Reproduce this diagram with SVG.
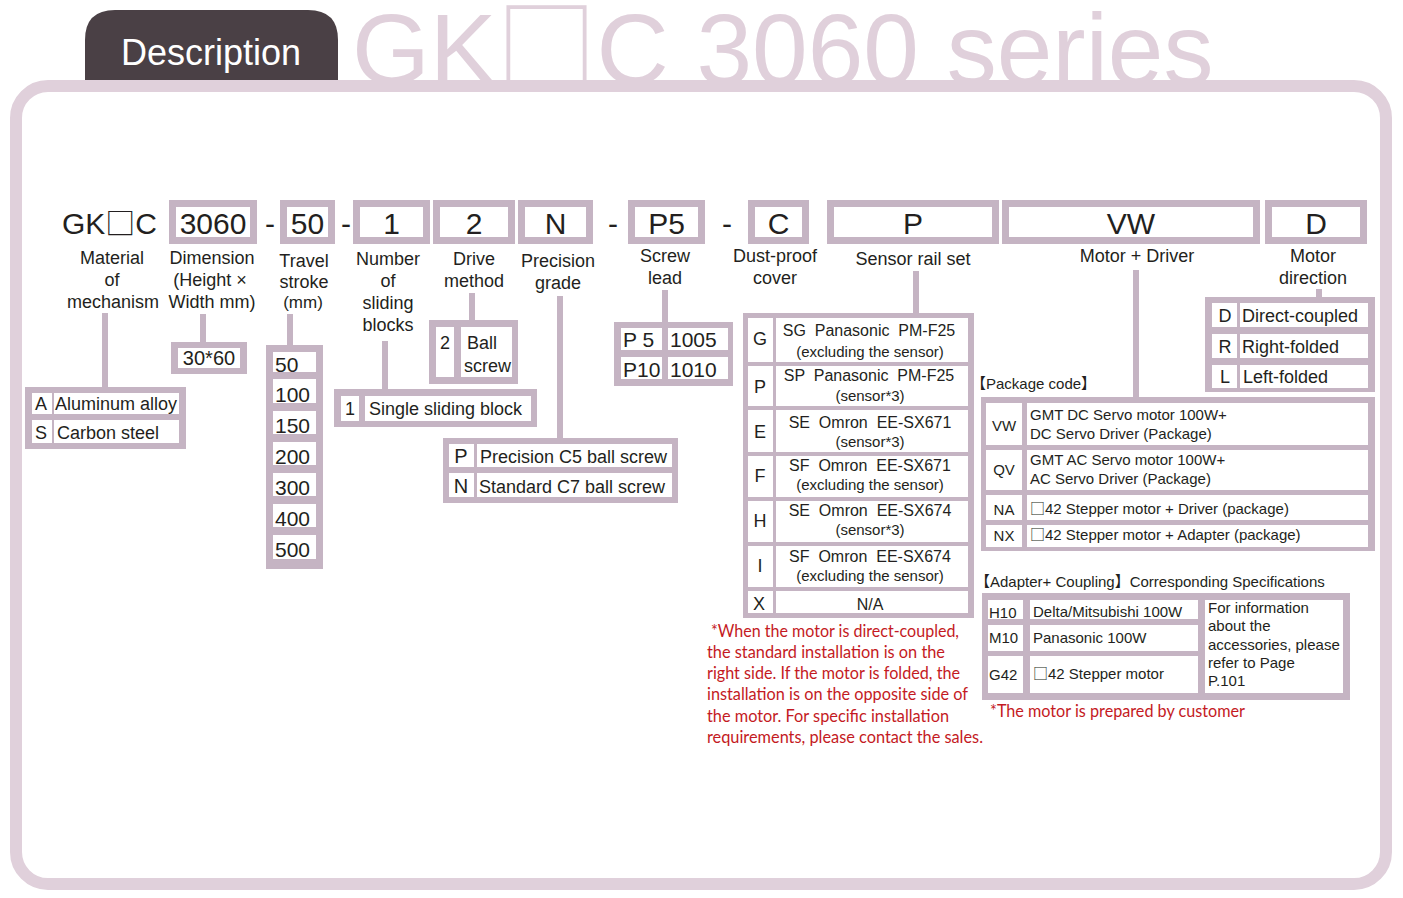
<svg xmlns="http://www.w3.org/2000/svg" width="1403" height="898" viewBox="0 0 1403 898">
<style>
.t{font-family:"Liberation Sans",Arial,"Noto Sans CJK SC",sans-serif;fill:#231f20}
.m{text-anchor:middle}
.cjk{font-family:"Noto Sans CJK SC","Noto Sans CJK JP",sans-serif}
.bg{fill:#c5b4c3}
.cell{fill:#fff}
.code{fill:#fff;stroke:#c5b4c3;stroke-width:7}
.ln{stroke:#c5b4c3;stroke-width:6;fill:none}
.red{font-family:Lato,"Open Sans",sans-serif;fill:#c41a23;font-size:17px}
.f18{font-size:18px}
.f15{font-size:15px}
.f16{font-size:16px}
.f21{font-size:21px}
.f30{font-size:30px}
</style>

<!-- header -->
<g id="header">
  <text x="352" y="84" font-family="Liberation Sans,Arial,sans-serif" font-size="100" fill="#e0d0db">GK<tspan class="cjk">□</tspan>C 3060 series</text>
  <path d="M85,80 V40 Q85,10 115,10 H308 Q338,10 338,40 V80 Z" fill="#4a4045"/>
  <text x="211" y="65" text-anchor="middle" font-family="Liberation Sans,Arial,sans-serif" font-size="36" fill="#ffffff">Description</text>
</g>
<g id="frame">
  <rect x="16" y="86" width="1370" height="798" rx="32" fill="#fff" stroke="#e0d0db" stroke-width="12"/>
</g>

<!-- code row -->
<g id="code-row">
  <text class="t f30" x="62" y="234">GK<tspan class="cjk">□</tspan>C</text>
  <rect class="code" x="172.5" y="203.5" width="81" height="37"/>
  <text class="t f30 m" x="213" y="234">3060</text>
  <text class="t f30 m" x="270" y="234">-</text>
  <rect class="code" x="283.5" y="203.5" width="48" height="37"/>
  <text class="t f30 m" x="307.5" y="234">50</text>
  <text class="t f30 m" x="346" y="234">-</text>
  <rect class="code" x="356.5" y="203.5" width="70" height="37"/>
  <text class="t f30 m" x="391.5" y="234">1</text>
  <rect class="code" x="436.5" y="203.5" width="75" height="37"/>
  <text class="t f30 m" x="474" y="234">2</text>
  <rect class="code" x="521.5" y="203.5" width="68" height="37"/>
  <text class="t f30 m" x="555.5" y="234">N</text>
  <text class="t f30 m" x="613" y="234">-</text>
  <rect class="code" x="631.5" y="203.5" width="70" height="37"/>
  <text class="t f30 m" x="666.5" y="234">P5</text>
  <text class="t f30 m" x="727" y="234">-</text>
  <rect class="code" x="751.5" y="203.5" width="54" height="37"/>
  <text class="t f30 m" x="778.5" y="234">C</text>
  <rect class="code" x="830.5" y="203.5" width="165" height="37"/>
  <text class="t f30 m" x="913" y="234">P</text>
  <rect class="code" x="1005.5" y="203.5" width="251" height="37"/>
  <text class="t f30 m" x="1131" y="234">VW</text>
  <rect class="code" x="1268.5" y="203.5" width="95" height="37"/>
  <text class="t f30 m" x="1316" y="234">D</text>
</g>

<!-- labels -->
<g id="labels">
  <text class="t f18 m" x="112" y="264">Material</text>
  <text class="t f18 m" x="112" y="286">of</text>
  <text class="t f18 m" x="113" y="308">mechanism</text>
  <text class="t f18 m" x="212" y="264">Dimension</text>
  <text class="t f18 m" x="210" y="286">(Height ×</text>
  <text class="t f18 m" x="212" y="308">Width mm)</text>
  <text class="t f18 m" x="304" y="267">Travel</text>
  <text class="t f18 m" x="304" y="288">stroke</text>
  <text class="t m" font-size="17" x="303" y="308">(mm)</text>
  <text class="t f18 m" x="388" y="265">Number</text>
  <text class="t f18 m" x="388" y="287">of</text>
  <text class="t f18 m" x="388" y="309">sliding</text>
  <text class="t f18 m" x="388" y="331">blocks</text>
  <text class="t f18 m" x="474" y="265">Drive</text>
  <text class="t f18 m" x="474" y="287">method</text>
  <text class="t f18 m" x="558" y="267">Precision</text>
  <text class="t f18 m" x="558" y="289">grade</text>
  <text class="t f18 m" x="665" y="262">Screw</text>
  <text class="t f18 m" x="665" y="284">lead</text>
  <text class="t f18 m" x="775" y="262">Dust-proof</text>
  <text class="t f18 m" x="775" y="284">cover</text>
  <text class="t f18 m" x="913" y="265">Sensor rail set</text>
  <text class="t f18 m" x="1137" y="262">Motor + Driver</text>
  <text class="t f18 m" x="1313" y="262">Motor</text>
  <text class="t f18 m" x="1313" y="284">direction</text>
</g>

<!-- connectors -->
<g id="connectors">
  <line class="ln" x1="105" y1="313" x2="105" y2="389"/>
  <line class="ln" x1="203" y1="314" x2="203" y2="343"/>
  <line class="ln" x1="290" y1="314" x2="290" y2="346"/>
  <line class="ln" x1="385" y1="341" x2="385" y2="390"/>
  <line class="ln" x1="472" y1="293" x2="472" y2="321"/>
  <line class="ln" x1="560" y1="296" x2="560" y2="439"/>
  <line class="ln" x1="665" y1="290" x2="665" y2="323"/>
  <line class="ln" x1="916" y1="271" x2="916" y2="314"/>
  <line class="ln" x1="1136" y1="270" x2="1136" y2="398"/>
  <line class="ln" x1="1319" y1="289" x2="1319" y2="298"/>
</g>

<!-- material -->
<g id="material-table">
  <rect class="bg" x="25" y="387" width="161" height="62"/>
  <rect class="cell" x="32" y="393" width="20" height="21"/>
  <rect class="cell" x="54" y="393" width="125" height="21"/>
  <rect class="cell" x="32" y="420" width="20" height="23"/>
  <rect class="cell" x="54" y="420" width="125" height="23"/>
  <text class="t f18 m" x="41" y="410">A</text>
  <text class="t f18" x="55" y="410">Aluminum alloy</text>
  <text class="t f18 m" x="41" y="439">S</text>
  <text class="t f18" x="57" y="439">Carbon steel</text>
</g>

<!-- dimension -->
<g id="dimension-table">
  <rect class="bg" x="171" y="342" width="76" height="32"/>
  <rect class="cell" x="178" y="348" width="62" height="20"/>
  <text class="t m" font-size="20" x="209" y="365">30*60</text>
</g>

<!-- travel -->
<g id="travel-table">
  <rect class="bg" x="266" y="345" width="57" height="224"/>
  <rect class="cell" x="273" y="352" width="43" height="20"/>
  <rect class="cell" x="273" y="379" width="43" height="24"/>
  <rect class="cell" x="273" y="411" width="43" height="23"/>
  <rect class="cell" x="273" y="442" width="43" height="23"/>
  <rect class="cell" x="273" y="473" width="43" height="23"/>
  <rect class="cell" x="273" y="504" width="43" height="23"/>
  <rect class="cell" x="273" y="535" width="43" height="24"/>
  <text class="t f21" x="275" y="372">50</text>
  <text class="t f21" x="275" y="402">100</text>
  <text class="t f21" x="275" y="433">150</text>
  <text class="t f21" x="275" y="464">200</text>
  <text class="t f21" x="275" y="495">300</text>
  <text class="t f21" x="275" y="526">400</text>
  <text class="t f21" x="275" y="557">500</text>
</g>

<!-- sliding blocks -->
<g id="blocks-table">
  <rect class="bg" x="334" y="389" width="203" height="38"/>
  <rect class="cell" x="341" y="396" width="18" height="25"/>
  <rect class="cell" x="365" y="396" width="166" height="25"/>
  <text class="t f18 m" x="350" y="415">1</text>
  <text class="t f18" x="369" y="415">Single sliding block</text>
</g>

<!-- drive -->
<g id="drive-table">
  <rect class="bg" x="429" y="320" width="89" height="64"/>
  <rect class="cell" x="436" y="327" width="18" height="50"/>
  <rect class="cell" x="461" y="327" width="51" height="50"/>
  <text class="t f18 m" x="445" y="349">2</text>
  <text class="t f18" x="467" y="349">Ball</text>
  <text class="t f18" x="464" y="372">screw</text>
</g>

<!-- precision -->
<g id="precision-table">
  <rect class="bg" x="443" y="438" width="235" height="65"/>
  <rect class="cell" x="449" y="444" width="25" height="23"/>
  <rect class="cell" x="477" y="444" width="195" height="23"/>
  <rect class="cell" x="449" y="473" width="25" height="24"/>
  <rect class="cell" x="477" y="473" width="195" height="24"/>
  <text class="t m" font-size="20" x="461" y="463">P</text>
  <text class="t f18" x="480" y="463">Precision C5 ball screw</text>
  <text class="t m" font-size="20" x="461" y="493">N</text>
  <text class="t f18" x="479" y="493">Standard C7 ball screw</text>
</g>

<!-- screw lead -->
<g id="lead-table">
  <rect class="bg" x="614" y="322" width="119" height="64"/>
  <rect class="cell" x="621" y="328" width="41" height="22"/>
  <rect class="cell" x="668" y="328" width="60" height="22"/>
  <rect class="cell" x="621" y="357" width="41" height="22"/>
  <rect class="cell" x="668" y="357" width="60" height="22"/>
  <text class="t f21" x="623" y="347" xml:space="preserve">P 5</text>
  <text class="t f21" x="670" y="347">1005</text>
  <text class="t f21" x="623" y="377">P10</text>
  <text class="t f21" x="670" y="377">1010</text>
</g>

<!-- sensor -->
<g id="sensor-table">
  <rect class="bg" x="743" y="313" width="231" height="305"/>
  <rect class="cell" x="748" y="318" width="25" height="44"/>
  <rect class="cell" x="776" y="318" width="192" height="44"/>
  <rect class="cell" x="748" y="366" width="25" height="40"/>
  <rect class="cell" x="776" y="366" width="192" height="40"/>
  <rect class="cell" x="748" y="410" width="25" height="42"/>
  <rect class="cell" x="776" y="410" width="192" height="42"/>
  <rect class="cell" x="748" y="456" width="25" height="41"/>
  <rect class="cell" x="776" y="456" width="192" height="41"/>
  <rect class="cell" x="748" y="501" width="25" height="41"/>
  <rect class="cell" x="776" y="501" width="192" height="41"/>
  <rect class="cell" x="748" y="546" width="25" height="41"/>
  <rect class="cell" x="776" y="546" width="192" height="41"/>
  <rect class="cell" x="748" y="591" width="25" height="22"/>
  <rect class="cell" x="776" y="591" width="192" height="22"/>
  <text class="t f18 m" x="760" y="345">G</text>
  <text class="t f16 m" x="869" y="336" xml:space="preserve">SG  Panasonic  PM-F25</text>
  <text class="t f15 m" x="870" y="357">(excluding the sensor)</text>
  <text class="t f18 m" x="760" y="393">P</text>
  <text class="t f16 m" x="869" y="381" xml:space="preserve">SP  Panasonic  PM-F25</text>
  <text class="t f15 m" x="870" y="401">(sensor*3)</text>
  <text class="t f18 m" x="760" y="438">E</text>
  <text class="t f16 m" x="870" y="428" xml:space="preserve">SE  Omron  EE-SX671</text>
  <text class="t f15 m" x="870" y="447">(sensor*3)</text>
  <text class="t f18 m" x="760" y="482">F</text>
  <text class="t f16 m" x="870" y="471" xml:space="preserve">SF  Omron  EE-SX671</text>
  <text class="t f15 m" x="870" y="490">(excluding the sensor)</text>
  <text class="t f18 m" x="760" y="527">H</text>
  <text class="t f16 m" x="870" y="516" xml:space="preserve">SE  Omron  EE-SX674</text>
  <text class="t f15 m" x="870" y="535">(sensor*3)</text>
  <text class="t f18 m" x="760" y="572">I</text>
  <text class="t f16 m" x="870" y="562" xml:space="preserve">SF  Omron  EE-SX674</text>
  <text class="t f15 m" x="870" y="581">(excluding the sensor)</text>
  <text class="t f18 m" x="759" y="610">X</text>
  <text class="t f16 m" x="870" y="610">N/A</text>
</g>

<!-- motor direction -->
<g id="direction-table">
  <rect class="bg" x="1205" y="297" width="170" height="95"/>
  <rect class="cell" x="1212" y="303" width="25" height="24"/>
  <rect class="cell" x="1240" y="303" width="128" height="24"/>
  <rect class="cell" x="1212" y="334" width="25" height="24"/>
  <rect class="cell" x="1240" y="334" width="128" height="24"/>
  <rect class="cell" x="1212" y="365" width="25" height="23"/>
  <rect class="cell" x="1240" y="365" width="128" height="23"/>
  <text class="t f18 m" x="1225" y="322">D</text>
  <text class="t f18" x="1242" y="322">Direct-coupled</text>
  <text class="t f18 m" x="1225" y="353">R</text>
  <text class="t f18" x="1242" y="353">Right-folded</text>
  <text class="t f18 m" x="1225" y="383">L</text>
  <text class="t f18" x="1243" y="383">Left-folded</text>
</g>

<!-- package -->
<g id="package-table">
  <text class="t f15" x="971" y="389">【Package code】</text>
  <rect class="bg" x="981" y="397" width="394" height="154"/>
  <rect class="cell" x="986" y="403" width="36" height="42"/>
  <rect class="cell" x="1027" y="403" width="341" height="42"/>
  <rect class="cell" x="986" y="450" width="36" height="40"/>
  <rect class="cell" x="1027" y="450" width="341" height="40"/>
  <rect class="cell" x="986" y="495" width="36" height="25"/>
  <rect class="cell" x="1027" y="495" width="341" height="25"/>
  <rect class="cell" x="986" y="525" width="36" height="22"/>
  <rect class="cell" x="1027" y="525" width="341" height="22"/>
  <text class="t f15 m" x="1004" y="431">VW</text>
  <text class="t f15" x="1030" y="420">GMT DC Servo motor 100W+</text>
  <text class="t f15" x="1030" y="439">DC Servo Driver (Package)</text>
  <text class="t f15 m" x="1004" y="475">QV</text>
  <text class="t f15" x="1030" y="465">GMT AC Servo motor 100W+</text>
  <text class="t f15" x="1030" y="484">AC Servo Driver (Package)</text>
  <text class="t f15 m" x="1004" y="515">NA</text>
  <text class="t f15" x="1030" y="514"><tspan class="cjk">□</tspan>42 Stepper motor + Driver (package)</text>
  <text class="t f15 m" x="1004" y="541">NX</text>
  <text class="t f15" x="1030" y="540"><tspan class="cjk">□</tspan>42 Stepper motor + Adapter (package)</text>
</g>

<!-- adapter -->
<g id="adapter-table">
  <text class="t f15" x="975" y="587">【Adapter+ Coupling】Corresponding Specifications</text>
  <rect class="bg" x="982" y="593" width="368" height="107"/>
  <rect class="cell" x="988" y="600" width="35" height="19"/>
  <rect class="cell" x="1030" y="600" width="168" height="19"/>
  <rect class="cell" x="988" y="625" width="35" height="26"/>
  <rect class="cell" x="1030" y="625" width="168" height="26"/>
  <rect class="cell" x="988" y="656" width="35" height="37"/>
  <rect class="cell" x="1030" y="656" width="168" height="37"/>
  <rect class="cell" x="1205" y="600" width="138" height="93"/>
  <text class="t f15" x="989" y="618">H10</text>
  <text class="t f15" x="1033" y="617">Delta/Mitsubishi 100W</text>
  <text class="t f15" x="989" y="643">M10</text>
  <text class="t f15" x="1033" y="643">Panasonic 100W</text>
  <text class="t f15" x="989" y="680">G42</text>
  <text class="t f15" x="1033" y="679"><tspan class="cjk">□</tspan>42 Stepper motor</text>
  <text class="t f15" x="1208" y="613">For information</text>
  <text class="t f15" x="1208" y="631">about the</text>
  <text class="t f15" x="1208" y="650">accessories, please</text>
  <text class="t f15" x="1208" y="668">refer to Page</text>
  <text class="t f15" x="1208" y="686">P.101</text>
</g>

<!-- notes -->
<g id="notes">
  <text class="red" x="711" y="637" textLength="248" lengthAdjust="spacingAndGlyphs">*When the motor is direct-coupled,</text>
  <text class="red" x="707" y="658" textLength="238" lengthAdjust="spacingAndGlyphs">the standard installation is on the</text>
  <text class="red" x="707" y="679" textLength="253" lengthAdjust="spacingAndGlyphs">right side. If the motor is folded, the</text>
  <text class="red" x="707" y="700" textLength="261" lengthAdjust="spacingAndGlyphs">installation is on the opposite side of</text>
  <text class="red" x="707" y="722" textLength="242" lengthAdjust="spacingAndGlyphs">the motor. For specific installation</text>
  <text class="red" x="707" y="743" textLength="276" lengthAdjust="spacingAndGlyphs">requirements, please contact the sales.</text>
  <text class="red" x="990" y="717" textLength="255" lengthAdjust="spacingAndGlyphs">*The motor is prepared by customer</text>
</g>
</svg>
